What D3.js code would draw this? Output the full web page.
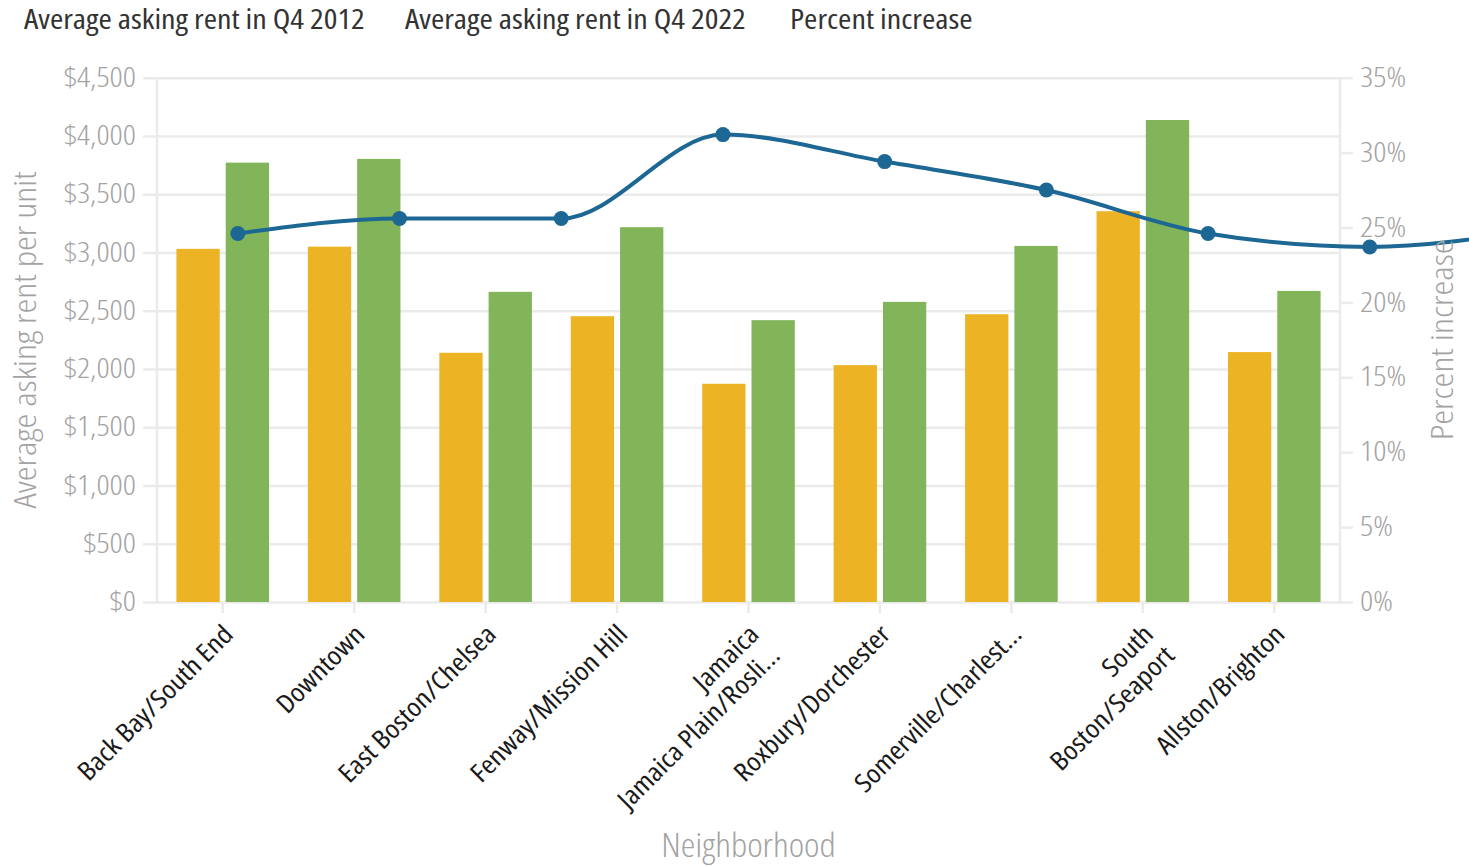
<!DOCTYPE html>
<html>
<head>
<meta charset="utf-8">
<script src="https://cdn.jsdelivr.net/npm/d3@7"></script>
<style>
  body { margin: 0; background: #fff; }
  svg { display: block; font-family: "Open Sans", sans-serif; font-stretch: 75%; }
</style>
</head>
<body>
<script>
// Data
const categories = ["Back Bay/South End", "Downtown", "East Boston/Chelsea", "Fenway/Mission Hill",
    "Jamaica Plain/Roslindale", "Roxbury/Dorchester", "Somerville/Charlestown", "South Boston/Seaport", "Allston/Brighton"];
const labelLines = [["Back Bay/South End"], ["Downtown"], ["East Boston/Chelsea"], ["Fenway/Mission Hill"],
    ["Jamaica", "Jamaica Plain/Rosli…"], ["Roxbury/Dorchester"], ["Somerville/Charlest…"], ["South", "Boston/Seaport"], ["Allston/Brighton"]];
const rent2012 = [3031, 3050, 2139, 2453, 1873, 2033, 2470, 3354, 2145];
const rent2022 = [3771, 3803, 2662, 3217, 2419, 2576, 3056, 4137, 2670];
const pctIncrease = [24.6, 25.6, 25.6, 31.2, 29.4, 27.5, 24.6, 23.7, 24.8];
const seriesNames = ["Average asking rent in Q4 2012", "Average asking rent in Q4 2022", "Percent increase"];
const rentTicks = [0, 500, 1000, 1500, 2000, 2500, 3000, 3500, 4000, 4500];
const pctTicks = [0, 5, 10, 15, 20, 25, 30, 35];

const W = 1469, H = 867;
const plot = {left: 157, right: 1340, top: 77.7, bottom: 602};
const gridColor = "#ebebeb", tickColor = "#a3a3a3";
const barColors = ["#ecb324", "#82b55a"];
const lineColor = "#1d6794";

// only the condensed face is wide enough-ish; stretch glyphs a bit to match the reference
function widen(sel, k) {
    sel.each(function() {
        const len = this.getComputedTextLength();
        d3.select(this).attr("textLength", len * k).attr("lengthAdjust", "spacingAndGlyphs");
    });
}

const svg = d3.select("body").append("svg")
    .attr("width", W)
    .attr("height", H);

const x0 = d3.scaleBand().domain(categories).range([plot.left, plot.right]);
const x1 = d3.scaleBand().domain([0, 1]).range([0, x0.bandwidth()])
    .paddingInner(0.122).paddingOuter(0.394);
// the line sits on its own, wider band scale (runs off the right edge)
const xLine = d3.scaleBand().domain(categories).range([plot.left, plot.left + 9 * 161.7]);
const y = d3.scaleLinear().domain([0, 4500]).range([plot.bottom, plot.top]);
const yPct = d3.scaleLinear().domain([0, 35]).range([plot.bottom, plot.top]);

function styleAxis(g) {
    g.attr("font-family", null).attr("font-size", null);
    g.select(".domain").remove();
    g.selectAll(".tick line").attr("stroke", gridColor).attr("stroke-width", 2.5);
    g.selectAll(".tick text").attr("fill", tickColor)
        .style("font-size", "27px").style("font-weight", 300)
        .call(widen, 1.2);
}

// left axis + gridlines
svg.append("g")
    .attr("transform", `translate(143,0)`)
    .call(d3.axisLeft(y).tickValues(rentTicks).tickSize(-(plot.right - 143)).tickPadding(7)
        .tickFormat(d => "$" + d3.format(",")(d)))
    .call(styleAxis);

// right axis
svg.append("g")
    .attr("transform", `translate(${plot.right},0)`)
    .call(d3.axisRight(yPct).tickValues(pctTicks).tickSize(13).tickPadding(7)
        .tickFormat(d => d + "%"))
    .call(styleAxis);

// vertical axis lines
svg.selectAll("line.vaxis")
    .data([plot.left, plot.right])
    .join("line")
    .attr("class", "vaxis")
    .attr("x1", d => d).attr("x2", d => d)
    .attr("y1", plot.top).attr("y2", plot.bottom + 1)
    .attr("stroke", gridColor).attr("stroke-width", 2.5);

// bottom ticks
svg.selectAll("line.xtick")
    .data(categories)
    .join("line")
    .attr("class", "xtick")
    .attr("x1", d => x0(d) + x0.bandwidth() / 2)
    .attr("x2", d => x0(d) + x0.bandwidth() / 2)
    .attr("y1", plot.bottom).attr("y2", plot.bottom + 11)
    .attr("stroke", gridColor).attr("stroke-width", 2.5);

// bars
const groups = svg.append("g").selectAll("g")
    .data(categories)
    .join("g")
    .attr("transform", d => `translate(${x0(d)},0)`);

groups.selectAll("rect")
    .data((d, i) => [rent2012[i], rent2022[i]])
    .join("rect")
    .attr("x", (d, j) => x1(j))
    .attr("width", x1.bandwidth())
    .attr("y", d => y(d))
    .attr("height", d => y(0) - y(d))
    .attr("fill", (d, j) => barColors[j]);

// percent line
const line = d3.line()
    .x((d, i) => xLine(categories[i]) + xLine.bandwidth() / 2)
    .y(d => yPct(d))
    .curve(d3.curveMonotoneX);

svg.append("path")
    .datum(pctIncrease)
    .attr("d", line)
    .attr("fill", "none")
    .attr("stroke", lineColor)
    .attr("stroke-width", 4);

svg.selectAll("circle.pt")
    .data(pctIncrease)
    .join("circle")
    .attr("class", "pt")
    .attr("cx", (d, i) => xLine(categories[i]) + xLine.bandwidth() / 2)
    .attr("cy", d => yPct(d))
    .attr("r", 7.5)
    .attr("fill", lineColor);

// x tick labels, rotated, one text per line
const xLabels = svg.append("g").selectAll("g")
    .data(categories)
    .join("g")
    .attr("transform", d => `translate(${x0(d) + x0.bandwidth() / 2 + 12},636) rotate(-45)`);

xLabels.each(function(d, i) {
    d3.select(this).selectAll("text")
        .data(labelLines[i])
        .join("text")
        .attr("y", (t, k) => k * 30)
        .attr("text-anchor", "end")
        .attr("fill", "#1a1a1a")
        .style("font-size", "26px")
        .text(t => t)
        .call(widen, 1.15);
});

// axis titles
svg.append("text")
    .attr("transform", `translate(36,${(plot.top + plot.bottom) / 2}) rotate(-90)`)
    .attr("text-anchor", "middle")
    .attr("fill", tickColor)
    .style("font-size", "32px").style("font-weight", 300)
    .text("Average asking rent per unit")
    .call(widen, 1.17);

svg.append("text")
    .attr("transform", `translate(1453,${(plot.top + plot.bottom) / 2}) rotate(-90)`)
    .attr("text-anchor", "middle")
    .attr("fill", tickColor)
    .style("font-size", "32px").style("font-weight", 300)
    .text("Percent increase")
    .call(widen, 1.17);

svg.append("text")
    .attr("x", (plot.left + plot.right) / 2)
    .attr("y", 857)
    .attr("text-anchor", "middle")
    .attr("fill", tickColor)
    .style("font-size", "33px").style("font-weight", 300)
    .text("Neighborhood")
    .call(widen, 1.12);

// legend (text only)
svg.append("g").selectAll("text")
    .data(seriesNames)
    .join("text")
    .attr("x", (d, i) => [24, 405, 790][i])
    .attr("y", 29)
    .attr("fill", "#333")
    .style("font-size", "28px")
    .text(d => d)
    .call(widen, 1.15);
</script>
</body>
</html>
